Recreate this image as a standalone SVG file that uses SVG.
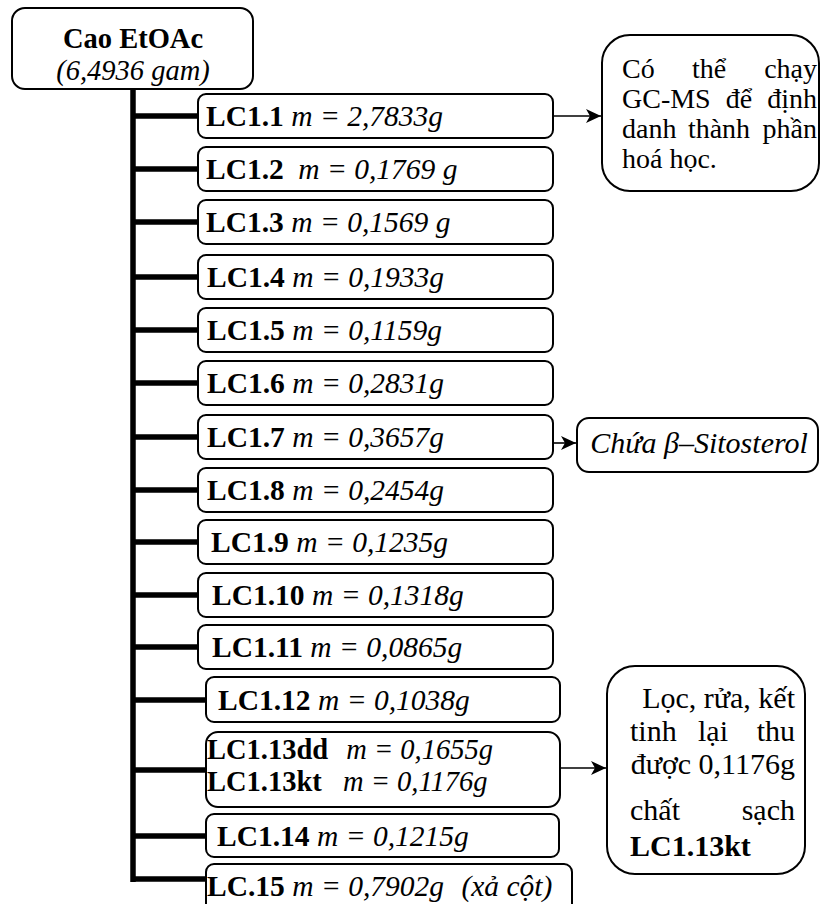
<svg xmlns="http://www.w3.org/2000/svg" width="823" height="904" viewBox="0 0 823 904">
<style>
  text { font-family: "Liberation Serif", "Times New Roman", serif; font-size: 29.5px; fill: #000; }
  .b { font-weight: bold; }
  .i { font-style: italic; }
  .box { fill: #fff; stroke: #000; stroke-width: 2; }
  .trunk { stroke: #000; stroke-width: 5.5; fill: none; }
  .arr { stroke: #000; stroke-width: 1.6; fill: none; marker-end: url(#ah); }
  .r { font-size: 28px; }
  .n { font-size: 30px; }
  .t { font-size: 28.5px; }
</style>
<defs>
  <marker id="ah" markerUnits="userSpaceOnUse" markerWidth="16" markerHeight="16" refX="15" refY="8" orient="auto">
    <path d="M0,1 L15,8 L0,15 L4,8 z" fill="#000"/>
  </marker>
</defs>
<rect width="823" height="904" fill="#fff"/>

<g id="connectors">
  <path class="trunk" d="M133,89 V882"/>
  <path class="trunk" d="M133,116 H198 M133,169 H198 M133,222 H198 M133,277 H198 M133,330 H198 M133,383 H198 M133,437 H198 M133,490 H198 M133,542 H198 M133,595 H198 M133,647 H198 M133,700 H206 M133,770 H206 M133,836 H206 M133,879 H206"/>
  <path class="arr" d="M553,116 H601"/>
  <path class="arr" d="M553,443 H576"/>
  <path class="arr" d="M560,768 H606"/>
</g>

<g id="root">
  <rect class="box" x="12" y="8" width="241" height="81" rx="13"/>
  <text class="b t" x="133" y="48" text-anchor="middle">Cao EtOAc</text>
  <text class="i t" x="133" y="80" text-anchor="middle">(6,4936 gam)</text>
</g>

<g id="lc1_1"><rect class="box" x="198" y="94" width="355" height="44" rx="8"/>
  <text x="206" y="126"><tspan class="b">LC1.1</tspan> <tspan class="i">m = 2,7833g</tspan></text></g>
<g id="lc1_2"><rect class="box" x="198" y="147" width="355" height="44" rx="8"/>
  <text x="206" y="179"><tspan class="b">LC1.2</tspan> <tspan class="i" dx="7">m = 0,1769 g</tspan></text></g>
<g id="lc1_3"><rect class="box" x="198" y="200" width="355" height="44" rx="8"/>
  <text x="206" y="232"><tspan class="b">LC1.3</tspan> <tspan class="i">m = 0,1569 g</tspan></text></g>
<g id="lc1_4"><rect class="box" x="198" y="255" width="355" height="44" rx="8"/>
  <text x="207" y="287"><tspan class="b">LC1.4</tspan> <tspan class="i">m = 0,1933g</tspan></text></g>
<g id="lc1_5"><rect class="box" x="198" y="308" width="355" height="44" rx="8"/>
  <text x="207" y="340"><tspan class="b">LC1.5</tspan> <tspan class="i">m = 0,1159g</tspan></text></g>
<g id="lc1_6"><rect class="box" x="198" y="361" width="355" height="44" rx="8"/>
  <text x="207" y="393"><tspan class="b">LC1.6</tspan> <tspan class="i">m = 0,2831g</tspan></text></g>
<g id="lc1_7"><rect class="box" x="198" y="415" width="355" height="44" rx="8"/>
  <text x="207" y="447"><tspan class="b">LC1.7</tspan> <tspan class="i">m = 0,3657g</tspan></text></g>
<g id="lc1_8"><rect class="box" x="198" y="468" width="355" height="44" rx="8"/>
  <text x="207" y="500"><tspan class="b">LC1.8</tspan> <tspan class="i">m = 0,2454g</tspan></text></g>
<g id="lc1_9"><rect class="box" x="198" y="520" width="355" height="44" rx="8"/>
  <text x="211" y="552"><tspan class="b">LC1.9</tspan> <tspan class="i">m = 0,1235g</tspan></text></g>
<g id="lc1_10"><rect class="box" x="198" y="573" width="355" height="44" rx="8"/>
  <text x="212" y="605"><tspan class="b">LC1.10</tspan> <tspan class="i">m = 0,1318g</tspan></text></g>
<g id="lc1_11"><rect class="box" x="198" y="625" width="355" height="44" rx="8"/>
  <text x="212" y="657"><tspan class="b">LC1.11</tspan> <tspan class="i">m = 0,0865g</tspan></text></g>
<g id="lc1_12"><rect class="box" x="206" y="677" width="354" height="45" rx="8"/>
  <text x="218" y="710"><tspan class="b">LC1.12</tspan> <tspan class="i">m = 0,1038g</tspan></text></g>
<g id="lc1_13"><rect class="box" x="206" y="732" width="354" height="75" rx="12"/>
  <text class="t" x="207" y="759"><tspan class="b">LC1.13dd</tspan> <tspan class="i" dx="11">m = 0,1655g</tspan></text>
  <text class="t" x="207" y="791"><tspan class="b">LC1.13kt</tspan> <tspan class="i" dx="14">m = 0,1176g</tspan></text></g>
<g id="lc1_14"><rect class="box" x="206" y="814" width="353" height="43" rx="8"/>
  <text x="217" y="846"><tspan class="b">LC1.14</tspan> <tspan class="i">m = 0,1215g</tspan></text></g>
<g id="lc1_15"><rect class="box" x="206" y="864" width="366" height="60" rx="8"/>
  <text x="207" y="896"><tspan class="b">LC.15</tspan> <tspan class="i">m = 0,7902g</tspan> <tspan class="i" dx="10">(xả cột)</tspan></text></g>

<g id="note_gcms">
  <rect class="box" x="602" y="35" width="217" height="156" rx="28"/>
  <text class="r" x="622" y="78">Có</text>
  <text class="r" x="709" y="78" text-anchor="middle">thể</text>
  <text class="r" x="817" y="78" text-anchor="end">chạy</text>
  <text class="r" x="622" y="108">GC-MS</text>
  <text class="r" x="739" y="108" text-anchor="middle">để</text>
  <text class="r" x="817" y="108" text-anchor="end">định</text>
  <text class="r" x="622" y="138">danh</text>
  <text class="r" x="719" y="138" text-anchor="middle">thành</text>
  <text class="r" x="817" y="138" text-anchor="end">phần</text>
  <text class="r" x="622" y="168">hoá học.</text>
</g>

<g id="note_sitosterol">
  <rect class="box" x="577" y="418" width="241" height="54" rx="12"/>
  <text class="i n" x="699" y="453" text-anchor="middle">Chứa β–Sitosterol</text>
</g>

<g id="note_lc113kt">
  <rect class="box" x="607" y="666" width="198" height="208" rx="28"/>
  <text class="n" x="795" y="708" text-anchor="end">Lọc, rửa, kết</text>
  <text class="n" x="630" y="741">tinh</text>
  <text class="n" x="713" y="741" text-anchor="middle">lại</text>
  <text class="n" x="795" y="741" text-anchor="end">thu</text>
  <text class="n" x="795" y="774" text-anchor="end">được 0,1176g</text>
  <text class="n" x="630" y="820">chất</text>
  <text class="n" x="795" y="820" text-anchor="end">sạch</text>
  <text class="n b" x="630" y="856">LC1.13kt</text>
</g>
</svg>
